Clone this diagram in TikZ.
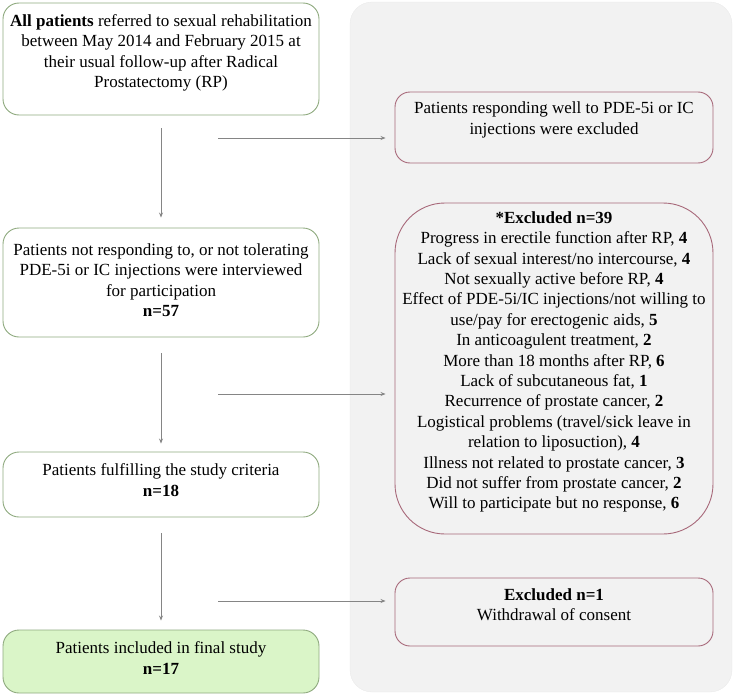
\documentclass[tikz,border=0pt]{standalone}
\usepackage{fontspec}
\setmainfont{Liberation Serif}
\usetikzlibrary{arrows.meta}
\definecolor{gborder}{HTML}{8FAA7F}
\definecolor{rborder}{HTML}{A8697A}
\definecolor{panelc}{HTML}{F2F2F2}
\definecolor{gfill}{HTML}{DAF5C8}
\definecolor{arrc}{HTML}{858585}
\tikzset{
  leftbox/.style={draw=gborder, line width=0.9pt, fill=white, rounded corners=16pt, inner sep=0pt, minimum width=316pt},
  rightbox/.style={draw=rborder, line width=0.9pt, fill=panelc, rounded corners=15pt, inner sep=0pt, minimum width=318pt},
  txt/.style={align=center, inner sep=0pt, font=\fontsize{17}{20.4}\selectfont},
  conn/.style={draw=arrc, line width=0.9pt, -{Stealth[length=5pt,width=4pt]}},
}
\begin{document}
\begin{tikzpicture}[x=1pt,y=-1pt]
\useasboundingbox (0,0) rectangle (734,696);
% background panel
\node[fill=panelc, draw=panelc!90!black!60, line width=0.3pt, rounded corners=22pt, minimum width=382pt, minimum height=690pt, inner sep=0pt] (panel) at (541,347) {};
% left column
\node[leftbox, minimum height=112pt] (b1) at (161,59) {};
\node[txt] (t1) at (161,53) {\textbf{All patients} referred to sexual rehabilitation\\between May 2014 and February 2015 at\\their usual follow-up after Radical\\Prostatectomy (RP)};
\node[leftbox, minimum height=109pt] (b2) at (161,282.5) {};
\node[txt] (t2) at (161,280) {Patients not responding to, or not tolerating\\PDE-5i or IC injections were interviewed\\for participation\\\textbf{n=57}};
\node[leftbox, minimum height=65pt] (b3) at (161,484.5) {};
\node[txt] (t3) at (161,480) {Patients fulfilling the study criteria\\\textbf{n=18}};
\node[leftbox, fill=gfill, minimum height=63pt] (b4) at (161,661.5) {};
\node[txt] (t4) at (161,658) {Patients included in final study\\\textbf{n=17}};
% right column
\node[rightbox, minimum height=71pt] (r1) at (554,127.5) {};
\node[txt] (s1) at (554,120) {Patients responding well to PDE-5i or IC\\injections were excluded};
\node[rightbox, rounded corners=50pt, minimum height=331pt] (r2) at (554,368.5) {};
\node[txt] (s2) at (554,362) {\textbf{*Excluded n=39}\\
Progress in erectile function after RP, \textbf{4}\\
Lack of sexual interest/no intercourse, \textbf{4}\\
Not sexually active before RP, \textbf{4}\\
Effect of PDE-5i/IC injections/not willing to\\
use/pay for erectogenic aids, \textbf{5}\\
In anticoagulent treatment, \textbf{2}\\
More than 18 months after RP, \textbf{6}\\
Lack of subcutaneous fat, \textbf{1}\\
Recurrence of prostate cancer, \textbf{2}\\
Logistical problems (travel/sick leave in\\
relation to liposuction), \textbf{4}\\
Illness not related to prostate cancer, \textbf{3}\\
Did not suffer from prostate cancer, \textbf{2}\\
Will to participate but no response, \textbf{6}};
\node[rightbox, minimum height=68pt] (r3) at (554,612) {};
\node[txt] (s3) at (554,605) {\textbf{Excluded n=1}\\Withdrawal of consent};
% connectors
\draw[conn, shorten <=13pt, shorten >=10pt] (b1.south) -- (b2.north);
\draw[conn, shorten <=16pt, shorten >=8pt] (b2.south) -- (b3.north);
\draw[conn, shorten <=16pt, shorten >=9pt] (b3.south) -- (b4.north);
\coordinate (h1) at (218,138);
\coordinate (h2) at (218,394);
\coordinate (h3) at (218,601);
\draw[conn, shorten >=9pt] (h1) -- (h1 -| r1.west);
\draw[conn, shorten >=9pt] (h2) -- (h2 -| r2.west);
\draw[conn, shorten >=9pt] (h3) -- (h3 -| r3.west);
\end{tikzpicture}
\end{document}
